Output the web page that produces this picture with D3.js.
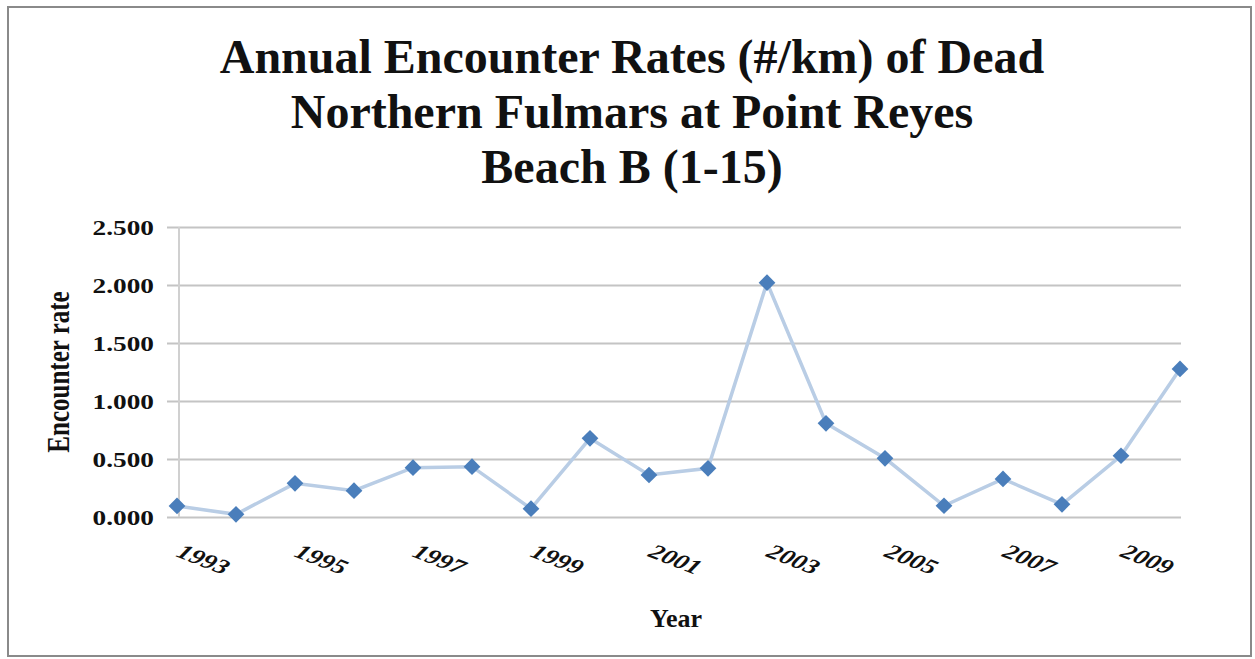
<!DOCTYPE html>
<html>
<head>
<meta charset="utf-8">
<script src="https://cdn.jsdelivr.net/npm/d3@7"></script>
<style>
	body { margin: 0; background: #fff; }
	svg text { font-family: 'Liberation Serif', 'Times New Roman', serif; font-weight: bold; fill: #111; }
</style>
</head>
<body>
<div id="chart"></div>
<script>
// Data
const years = [1993, 1994, 1995, 1996, 1997, 1998, 1999, 2000, 2001, 2002, 2003, 2004, 2005, 2006, 2007, 2008, 2009, 2010];
const rates = [0.095, 0.023, 0.29, 0.227, 0.425, 0.434, 0.072, 0.678, 0.362, 0.42, 2.02, 0.808, 0.506, 0.097, 0.328, 0.109, 0.528, 1.276];
const yTicks = [0, 0.5, 1, 1.5, 2, 2.5];
const xLabelYears = [1993, 1995, 1997, 1999, 2001, 2003, 2005, 2007, 2009];
const titleLines = ['Annual Encounter Rates (#/km) of Dead', 'Northern Fulmars at Point Reyes', 'Beach B (1-15)'];

const width = 1255;
const height = 659;
const stretch = 1.3; // axis texts look widened in the picture

const svg = d3.select('#chart').append('svg').attr('width', width).attr('height', height);

// Frame
svg.append('rect').attr('x', 8).attr('y', 7).attr('width', 1243).attr('height', 649).attr('fill', '#fff').attr('stroke', '#8a8a8a').attr('stroke-width', 2);

// Scales
const x = d3.scaleLinear().domain([1993, 2010]).range([177, 1180]);
const y = d3.scaleLinear().domain([0, 2.5]).range([517, 227]);

// Title
svg
	.append('g')
	.selectAll('text')
	.data(titleLines)
	.enter()
	.append('text')
	.attr('x', 632)
	.attr('y', (d, i) => 73 + i * 55)
	.attr('text-anchor', 'middle')
	.style('font-size', '48px')
	.text((d) => d);

// Gridlines + y labels
const yAxis = svg
	.append('g')
	.attr('transform', 'translate(179,0)')
	.call(d3.axisLeft(y).tickValues(yTicks).tickFormat(d3.format('.3f')).tickSize(12).tickSizeOuter(0));
yAxis.select('.domain').remove();
yAxis.selectAll('.tick line').attr('x1', -12).attr('x2', 1002).attr('stroke', '#c4c4c4').attr('stroke-width', 2);
yAxis
	.selectAll('.tick text')
	.attr('x', null)
	.attr('dy', '0.35em')
	.attr('transform', `translate(-25,0) scale(${stretch},1)`)
	.style('font-size', '21px')
	.style('font-family', null);

// Vertical axis line
svg.append('line').attr('x1', 179).attr('x2', 179).attr('y1', y(2.5)).attr('y2', y(0)).attr('stroke', '#d0d0d0').attr('stroke-width', 2);

// X labels
svg
	.append('g')
	.selectAll('text')
	.data(xLabelYears)
	.enter()
	.append('text')
	.attr('transform', (d) => `translate(${x(d) - 2},556) scale(${stretch},1) rotate(27)`)
	.style('font-size', '21px')
	.style('font-style', 'italic')
	.text((d) => d);

// Axis titles
svg
	.append('text')
	.attr('transform', `translate(69,372) scale(${stretch},1) rotate(-90)`)
	.attr('text-anchor', 'middle')
	.style('font-size', '25px')
	.text('Encounter rate');

svg.append('text').attr('x', 676).attr('y', 627).attr('text-anchor', 'middle').style('font-size', '26px').text('Year');

// Series line
const line = d3
	.line()
	.x((d, i) => x(years[i]))
	.y((d) => y(d));

svg.append('path').datum(rates).attr('d', line).attr('fill', 'none').attr('stroke', '#b9cde5').attr('stroke-width', 3.5);

// Markers
svg
	.append('g')
	.selectAll('path')
	.data(rates)
	.enter()
	.append('path')
	.attr('d', d3.symbol(d3.symbolSquare, 140))
	.attr('transform', (d, i) => `translate(${x(years[i])},${y(d)}) rotate(45)`)
	.attr('fill', '#4a7ebb');
</script>
</body>
</html>
